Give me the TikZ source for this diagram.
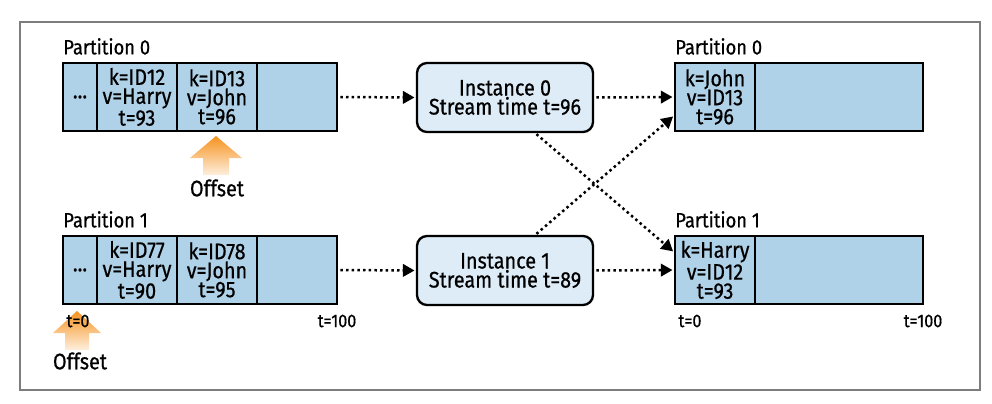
\documentclass[tikz,border=0pt]{standalone}
\usepackage{fontspec}
\setmainfont{Fira Sans}[FakeStretch=0.88, FakeBold=0.6]
\usetikzlibrary{positioning,arrows.meta}

\definecolor{cellblue}{RGB}{176,210,233}
\definecolor{instblue}{RGB}{221,236,247}
\definecolor{offorange}{RGB}{246,146,30}
\definecolor{framegray}{RGB}{125,125,125}

\begin{document}
\begin{tikzpicture}[
      x=0.6pt, y=-0.6pt,
      cell/.style={draw, line width=1.4pt, fill=cellblue, minimum width=48pt,
                   minimum height=40.8pt, inner sep=1pt, outer sep=0pt,
                   align=center, font=\fontsize{13.5}{11.4}\selectfont},
      inst/.style={draw, line width=1.4pt, fill=instblue, rounded corners=6pt,
                   minimum width=105.6pt, minimum height=41.4pt, outer sep=0pt,
                   align=center, font=\fontsize{13.5}{11.4}\selectfont},
      part/.style={inner sep=0pt, font=\fontsize{12.5}{13}\selectfont},
      tick/.style={inner sep=0pt, font=\fontsize{11}{11}\selectfont},
      offlbl/.style={inner sep=0pt, font=\fontsize{13.5}{14}\selectfont},
      flow/.style={-{Triangle[length=7pt,width=7.5pt]}, line width=1.5pt,
                   dash pattern=on 1.5pt off 1.9pt, shorten <=2pt, shorten >=1.5pt}
    ]
    \useasboundingbox (0,0) rectangle (992,403);
    \draw[framegray, line width=0.8pt] (20,22) rectangle (980,390);

    % input partitions
    \foreach \p/\y/\n/\ka/\va/\ta/\kb/\vb/\tb in
        {a/97/0/ID12/Harry/93/ID13/John/96, b/270/1/ID77/Harry/90/ID78/John/95} {
      \node[cell, minimum width=20.4pt, anchor=west] (\p0) at (63,\y) {...};
      \node[cell, right=0pt of \p0] (\p1) {k=\ka\\v=\va\\t=\ta};
      \node[cell, right=0pt of \p1] (\p2) {k=\kb\\v=\vb\\t=\tb};
      \node[cell, right=0pt of \p2] (\p3) {};
      \node[part, above right=4.8pt and 0pt of \p0.north west] (\p lbl) {Partition \n};
    }

    % offset markers
    \shade[top color=offorange, bottom color=offorange!15]
      (216,136) -- ++(26,22) -- ++(-13,0) -- ++(0,17) -- ++(-26,0)
      -- ++(0,-17) -- ++(-13,0) -- cycle;
    \node[offlbl] (offa) at (217,188) {Offset};
    \shade[top color=offorange, bottom color=offorange!15]
      (77,311) -- ++(24,22) -- ++(-12,0) -- ++(0,17) -- ++(-24,0)
      -- ++(0,-17) -- ++(-12,0) -- cycle;
    \node[offlbl] (offb) at (80,361) {Offset};

    % stream tasks
    \node[inst] (i0) at (505,97.5) {Instance 0\\Stream time t=96};
    \node[inst] (i1) at (505,270.5) {Instance 1\\Stream time t=89};

    % output partitions
    \node[cell, anchor=west] (c0) at (675,97) {k=John\\v=ID13\\t=96};
    \node[cell, minimum width=100.8pt, right=0pt of c0] (c1) {};
    \node[part, above right=4.8pt and 0pt of c0.north west] (clbl) {Partition 0};
    \node[cell, anchor=west] (d0) at (675,270) {k=Harry\\v=ID12\\t=93};
    \node[cell, minimum width=100.8pt, right=0pt of d0] (d1) {};
    \node[part, above right=4.8pt and 0pt of d0.north west] (dlbl) {Partition 1};

    % time marks
    \node[tick] (ta0) at (78,321) {t=0};
    \node[tick] (ta1) at (337,321) {t=100};
    \node[tick] (tb0) at (690,321) {t=0};
    \node[tick] (tb1) at (923,321) {t=100};

    % records flowing
    \draw[flow] (a3.east) -- (i0.west);
    \draw[flow] (b3.east) -- (i1.west);
    \draw[flow] (i0.east) -- (c0.west);
    \draw[flow] (i1.east) -- (d0.west);
    \draw[flow] (i0.-50) -- (d0.157);
    \draw[flow] (i1.50) -- (c0.204);
  \end{tikzpicture}
\end{document}
